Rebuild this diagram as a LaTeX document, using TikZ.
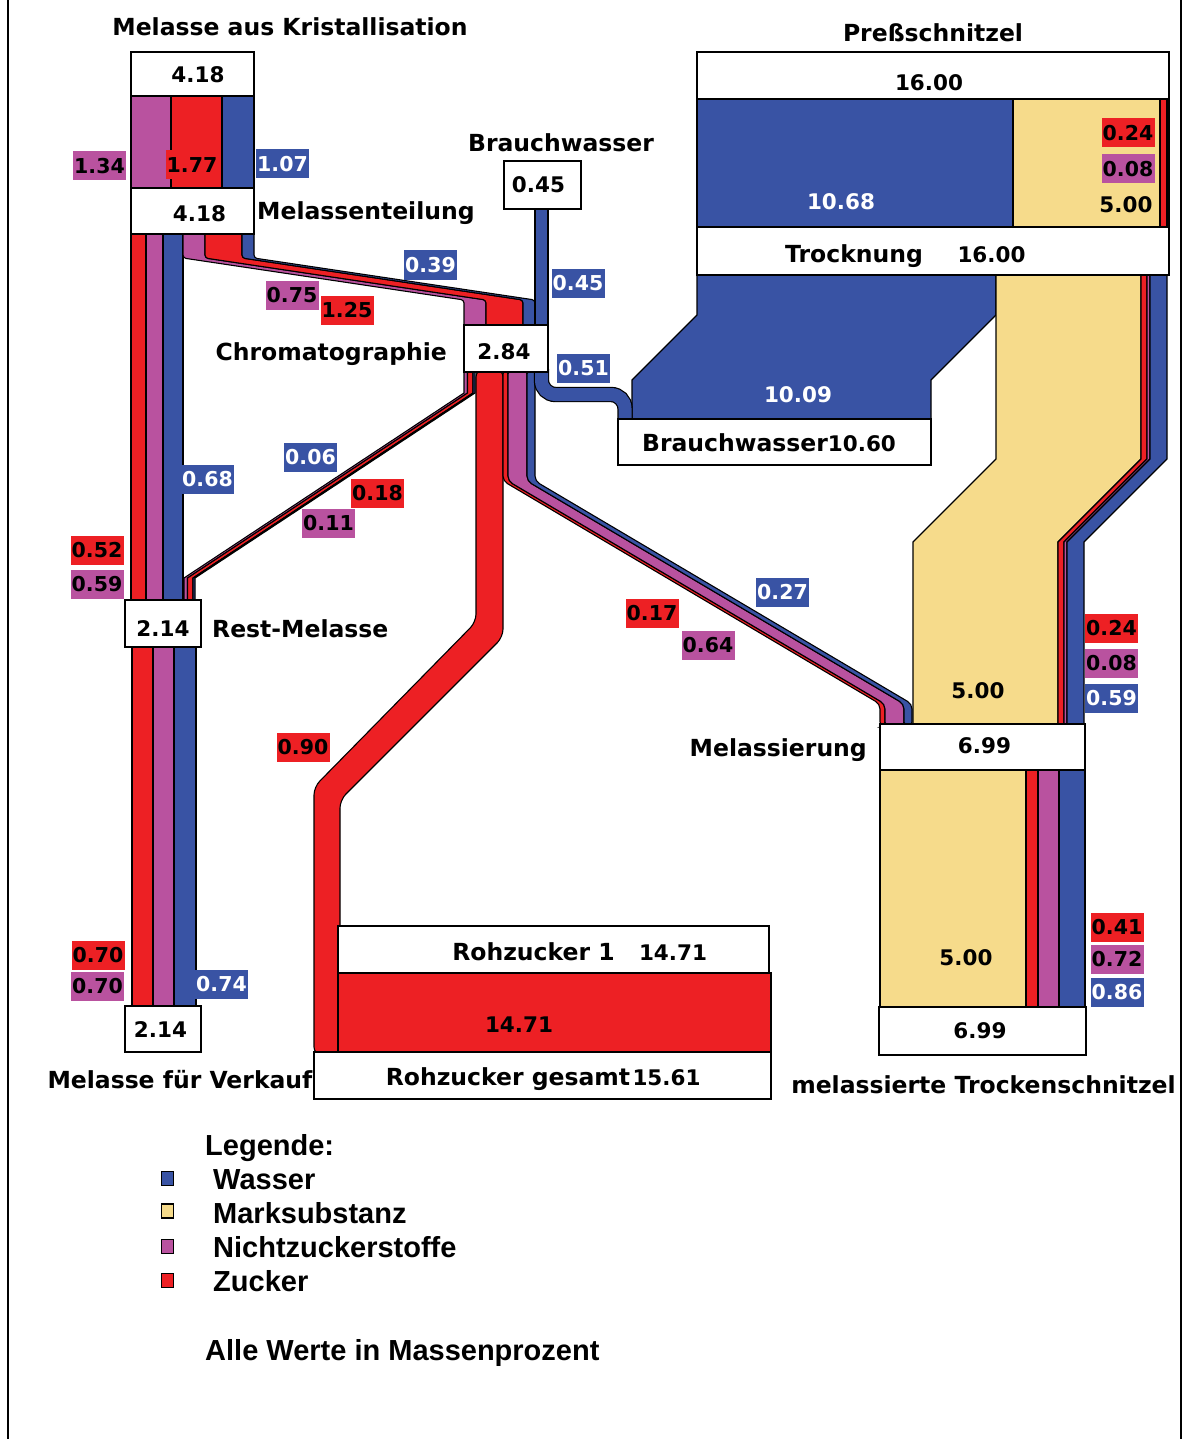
\documentclass[tikz,border=0pt]{standalone}
\usepackage{fontspec}
\newfontfamily\dvsfam{DejaVu Sans}
\newfontfamily\libfam{Liberation Sans}
\newcommand\wordfont{\dvsfam\bfseries\fontsize{23.5}{28}\selectfont}
\newcommand\numfont{\dvsfam\bfseries\fontsize{21.5}{26}\selectfont}
\newcommand\labfont{\dvsfam\bfseries\fontsize{20.5}{24}\selectfont}
\newcommand\legfont{\libfam\bfseries\fontsize{29}{34}\selectfont}
\definecolor{zblue}{RGB}{57,83,164}
\definecolor{zred}{RGB}{237,32,36}
\definecolor{zpurple}{RGB}{185,82,159}
\definecolor{zyellow}{RGB}{246,219,139}
% sheared band strip: colour, top x, top y, upper bend y, bottom x, lower bend y, bottom y, strip offsets a..b
\newcommand\band[9]{%
  \filldraw[flow,fill=#1] ({#2+#8},#3) -- ({#2+#9},#3) -- ({#2+#9},#4) -- ({#5+#9},#6) -- ({#5+#9},#7) -- ({#5+#8},#7) -- ({#5+#8},#6) -- ({#2+#8},#4) -- cycle;}
\begin{document}
\begin{tikzpicture}[x=1pt,y=-1pt,
  flow/.style={draw=black,line width=1.1pt,line join=miter},
  box/.style={draw=black,fill=white,line width=1.4pt,inner sep=0pt},
  txt/.style={inner sep=0pt,anchor=base},
  word/.style={txt,font=\wordfont},
  num/.style={txt,font=\numfont},
  tag/.style={inner sep=0pt,minimum width=53pt,minimum height=29pt,font=\labfont},
  tagr/.style={tag,fill=zred,text=black},
  tagp/.style={tag,fill=zpurple,text=black},
  tagb/.style={tag,fill=zblue,text=white},
  legsq/.style={draw=black,line width=1.2pt,minimum width=12pt,minimum height=14pt,inner sep=0pt},
  leg/.style={inner sep=0pt,anchor=base west,font=\legfont}]
\useasboundingbox (0,0) rectangle (1185,1439);

% ---------- flows ----------
% molasses from crystallisation
\filldraw[flow,fill=zpurple] (131,96) rectangle (171,188);
\filldraw[flow,fill=zred] (171,96) rectangle (222,188);
\filldraw[flow,fill=zblue] (222,96) rectangle (254,188);
% Melassenteilung -> Rest-Melasse
\filldraw[flow,fill=zred] (131,234) rectangle (146,600);
\filldraw[flow,fill=zpurple] (146,234) rectangle (163,600);
\filldraw[flow,fill=zblue] (163,234) rectangle (183,600);
% Melassenteilung -> Chromatographie
\begin{scope}[rounded corners=3pt]
\band{zpurple}{183}{231}{258}{464}{300}{328}{0}{22}
\band{zred}{183}{231}{258}{464}{300}{328}{22}{59}
\band{zblue}{183}{231}{258}{464}{300}{328}{59}{71}
\end{scope}
% fresh water into the chromatography
\filldraw[flow,fill=zblue] (535,206) rectangle (548,328);
% Chromatographie -> Rest-Melasse
\band{zpurple}{464}{369}{393}{184}{578}{603}{0}{3.5}
\band{zred}{464}{369}{393}{184}{578}{603}{3.5}{9}
\band{zblue}{464}{369}{393}{184}{578}{603}{9}{11}
% Chromatographie -> Rohzucker
\filldraw[flow,fill=zred,rounded corners=8pt] (476,369) -- (503,369) -- (503,637) -- (340,800) -- (340,1055) -- (314,1055) -- (314,787) -- (476,622) -- cycle;
% Chromatographie -> Melassierung
\begin{scope}[rounded corners=5pt]
\band{zred}{503}{369}{481}{880}{704}{727}{0}{5}
\band{zpurple}{503}{369}{481}{880}{704}{727}{5}{24}
\band{zblue}{503}{369}{481}{880}{704}{727}{24}{32}
\end{scope}
% Rest-Melasse -> Melasse fuer Verkauf
\filldraw[flow,fill=zred] (132,647) rectangle (153,1006);
\filldraw[flow,fill=zpurple] (153,647) rectangle (174,1006);
\filldraw[flow,fill=zblue] (174,647) rectangle (196,1006);
% pressed pulp into drying
\filldraw[flow,fill=zblue] (697,99) rectangle (1013,227);
\filldraw[flow,fill=zyellow] (1013,99) rectangle (1160,227);
\filldraw[flow,fill=zred] (1160,99) rectangle (1167,227);
\filldraw[flow,fill=zpurple] (1167,99) rectangle (1169,227);
% Trocknung -> Brauchwasser
\band{zblue}{697}{272}{315}{632}{380}{422}{0}{299}
% Trocknung -> Melassierung
\band{zyellow}{996}{272}{459}{913}{542}{727}{0}{145}
\band{zred}{996}{272}{459}{913}{542}{727}{145}{151}
\band{zpurple}{996}{272}{459}{913}{542}{727}{151}{154}
\band{zblue}{996}{272}{459}{913}{542}{727}{154}{171}
% water from the chromatography into Brauchwasser
\draw[line width=15.4pt,black,rounded corners=14pt] (541.5,369) |- (625,394.5) -- (625,422);
\draw[line width=13pt,zblue,rounded corners=14pt] (541.5,369) |- (625,394.5) -- (625,422);
% Melassierung -> melassierte Trockenschnitzel
\filldraw[flow,fill=zyellow] (880,770) rectangle (1026,1007);
\filldraw[flow,fill=zred] (1026,770) rectangle (1038,1007);
\filldraw[flow,fill=zpurple] (1038,770) rectangle (1059,1007);
\filldraw[flow,fill=zblue] (1059,770) rectangle (1085,1007);
% Rohzucker 1
\filldraw[flow,fill=zred] (338,973) rectangle (771,1052);

% ---------- boxes ----------
\node[box,minimum width=123pt,minimum height=44pt] (kris) at (192.5,74) {};
\node[box,minimum width=123pt,minimum height=46pt] (teil) at (192.5,211) {};
\node[box,minimum width=77pt,minimum height=48pt] (bwin) at (542.5,185) {};
\node[box,minimum width=84pt,minimum height=47pt] (chrom) at (506,348.5) {};
\node[box,minimum width=76pt,minimum height=47pt] (rest) at (163,623.5) {};
\node[box,minimum width=76pt,minimum height=46pt] (verk) at (163,1029) {};
\node[box,minimum width=472pt,minimum height=47pt] (press) at (933,75.5) {};
\node[box,minimum width=472pt,minimum height=48pt] (trock) at (933,251) {};
\node[box,minimum width=313pt,minimum height=46pt] (bwout) at (774.5,442) {};
\node[box,minimum width=205pt,minimum height=46pt] (melas) at (982.5,747) {};
\node[box,minimum width=207pt,minimum height=48pt] (trsch) at (982.5,1031) {};
\node[box,minimum width=431pt,minimum height=47pt] (rz1) at (553.5,949.5) {};
\node[box,minimum width=457pt,minimum height=47pt] (rzg) at (542.5,1075.5) {};

% ---------- titles and values ----------
\node[word] (tkris) at (290,36) {Melasse aus Kristallisation};
\node[num] (vkris) at (198,83) {4.18};
\node[num] (vteil) at (199.5,222) {4.18};
\node[word,anchor=base west] (tteil) at (257,220) {Melassenteilung};
\node[word] (tbw) at (561,152) {Brauchwasser};
\node[num] (vbw) at (538.5,193) {0.45};
\node[num] (vchrom) at (504,359) {2.84};
\node[word,anchor=base east] (tchrom) at (447,360) {Chromatographie};
\node[num] (vrest) at (163,636) {2.14};
\node[word,anchor=base west] (trest) at (212,637) {Rest-Melasse};
\node[num] (vverk) at (160.5,1037) {2.14};
\node[word] (tverk) at (180,1088) {Melasse für Verkauf};
\node[word] (tpress) at (933,42) {Preßschnitzel};
\node[num] (vpress) at (929,91) {16.00};
\node[num,text=white] (v1068) at (841,210) {10.68};
\node[num] (v500a) at (1126,213) {5.00};
\node[word] (ttrock) at (854,262) {Trocknung};
\node[num] (vtrock) at (991.5,262) {16.00};
\node[num,text=white] (v1009) at (798,402) {10.09};
\node[txt] (tbwout) at (769,451) {{\wordfont Brauchwasser}{\numfont 10.60}};
\node[num] (v500b) at (978,698) {5.00};
\node[num] (vmelas) at (984.5,753) {6.99};
\node[word,anchor=base east] (tmelas) at (867,756) {Melassierung};
\node[num] (v500c) at (966,965) {5.00};
\node[num] (vtrsch) at (980,1038) {6.99};
\node[word] (ttrsch) at (983.5,1093) {melassierte Trockenschnitzel};
\node[word] (trz1) at (533.5,960) {Rohzucker 1};
\node[num] (vrz1) at (673,960) {14.71};
\node[num] (vrzred) at (519,1032) {14.71};
\node[word] (trzg) at (508,1085) {Rohzucker gesamt};
\node[num] (vrzg) at (666.5,1085) {15.61};

% ---------- flow tags ----------
\node[tagp] (l1) at (99.5,166) {1.34};
\node[tagr] (l2) at (192,165) {1.77};
\node[tagb] (l3) at (282.5,164) {1.07};
\node[tagb] (l4) at (430.5,265) {0.39};
\node[tagp] (l5) at (292,295.5) {0.75};
\node[tagr] (l6) at (347,310.5) {1.25};
\node[tagb] (l7) at (578,283.5) {0.45};
\node[tagb] (l8) at (583.5,368.5) {0.51};
\node[tagr] (l9) at (1128,133) {0.24};
\node[tagp] (l10) at (1128,169) {0.08};
\node[tagb] (l11) at (310.5,457.5) {0.06};
\node[tagb] (l12) at (207.5,479.5) {0.68};
\node[tagr] (l13) at (377.5,493) {0.18};
\node[tagp] (l14) at (328.5,523.5) {0.11};
\node[tagr] (l15) at (97,550.5) {0.52};
\node[tagp] (l16) at (97,584) {0.59};
\node[tagb] (l17) at (782.5,592) {0.27};
\node[tagr] (l18) at (652,613) {0.17};
\node[tagp] (l19) at (708,645.5) {0.64};
\node[tagr] (l20) at (1111.5,628.5) {0.24};
\node[tagp] (l21) at (1111.5,663.5) {0.08};
\node[tagb] (l22) at (1111.5,698.5) {0.59};
\node[tagr] (l23) at (303,747) {0.90};
\node[tagr] (l24) at (1117,927) {0.41};
\node[tagp] (l25) at (1117,959) {0.72};
\node[tagb] (l26) at (1117,992) {0.86};
\node[tagr] (l27) at (98,955.5) {0.70};
\node[tagp] (l28) at (97.5,986.5) {0.70};
\node[tagb] (l29) at (221.5,984) {0.74};

% ---------- legend ----------
\node[leg] (lhead) at (205,1155) {Legende:};
\node[legsq,fill=zblue] (sq1) at (167.5,1178.5) {};
\node[leg] (lw) at (213,1189) {Wasser};
\node[legsq,fill=zyellow] (sq2) at (167.5,1211) {};
\node[leg] (lm) at (213,1223) {Marksubstanz};
\node[legsq,fill=zpurple] (sq3) at (167.5,1246.5) {};
\node[leg] (ln) at (213,1257) {Nichtzuckerstoffe};
\node[legsq,fill=zred] (sq4) at (167.5,1280.5) {};
\node[leg] (lz) at (213,1291) {Zucker};
\node[leg] (lall) at (205,1360) {Alle Werte in Massenprozent};

% ---------- frame ----------
\draw[line width=2pt] (8,0) -- (8,1439);
\draw[line width=2pt] (1181,0) -- (1181,1439);
\end{tikzpicture}
\end{document}
